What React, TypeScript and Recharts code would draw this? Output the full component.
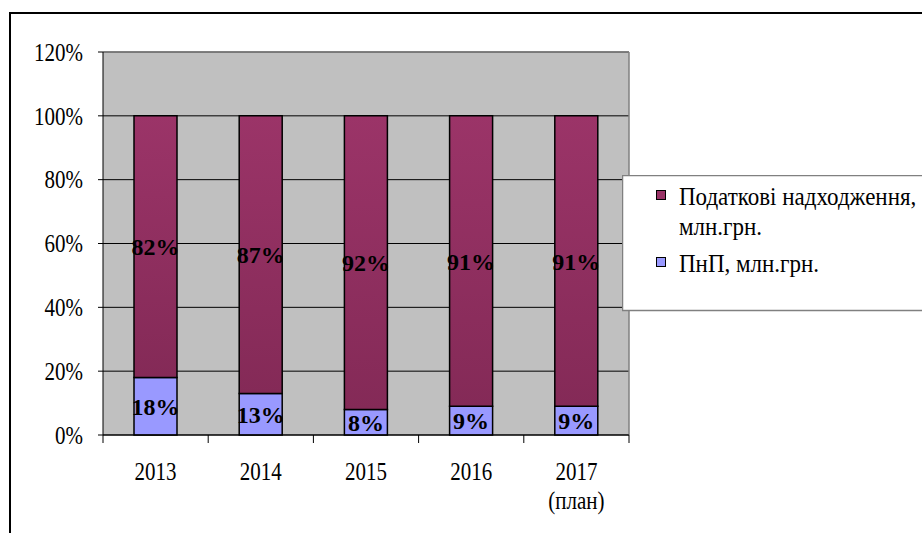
import React from 'react';
import {
  BarChart, Bar, XAxis, YAxis, CartesianGrid, LabelList, ReferenceLine,
} from 'recharts';

const years = ['2013', '2014', '2015', '2016', '2017\n(план)'];
const pnpValues = [18, 13, 8, 9, 9];
const taxValues = [82, 87, 92, 91, 91];
const yTicks = [0, 20, 40, 60, 80, 100, 120];
const seriesNames = { tax: 'Податкові надходження,\nмлн.грн.', pnp: 'ПнП, млн.грн.' };
const seriesColors = { tax: '#993366', pnp: '#9999FF' };

const data = years.map((y, i) => ({ year: y, pnp: pnpValues[i], tax: taxValues[i] }));

const FONT = 'Liberation Serif, Tinos, Times New Roman, DejaVu Serif, serif';
const SY = 1.15;
const LSY = 1.08;

const YTick = (props: any) => {
  const { x, y, payload } = props;
  return (
    <g transform={`translate(${x},${y}) scale(1,${SY})`}>
      <text x={0} y={0} dy="0.36em" textAnchor="end" fontSize={21} style={{ fontFamily: FONT }} fill="#000">
        {payload.value}%
      </text>
    </g>
  );
};

const XTick = (props: any) => {
  const { x, y, payload, index, visibleTicksCount } = props;
  const lines = String(payload.value).split('\n');
  const half = payload.offset || 0;
  const isLast = index === visibleTicksCount - 1;
  return (
    <g>
      <line x1={x - half} x2={x - half} y1={y} y2={y + 8} stroke="#000" strokeWidth={1} />
      {isLast && <line x1={x + half} x2={x + half} y1={y} y2={y + 8} stroke="#000" strokeWidth={1} />}
      <g transform={`translate(${x},${y}) scale(1,${SY})`}>
        {lines.map((l, i) => (
          <text key={i} x={0} y={(45 + i * 29) / SY} textAnchor="middle" fontSize={21} style={{ fontFamily: FONT }} fill="#000">
            {l}
          </text>
        ))}
      </g>
    </g>
  );
};

const LegendBox = () => {
  const items = [
    { name: seriesNames.tax, color: seriesColors.tax },
    { name: seriesNames.pnp, color: seriesColors.pnp },
  ];
  const tops = [15, 82];
  return (
    <svg width={310} height={137} style={{ display: 'block' }}>
      <rect x={0.5} y={0.5} width={330} height={135} fill="#fff" stroke="#808080" strokeWidth={1.5} />
      {items.map((it, i) => {
        const lines = it.name.split('\n');
        return (
          <g key={i}>
            <rect x={34.5} y={tops[i] + 0.5} width={9} height={9} fill={it.color} stroke="#000" strokeWidth={1} />
            {lines.map((l, j) => (
              <g key={j} transform={`translate(57,${tops[i] + 15 + j * 30}) scale(1,${LSY})`}>
                <text x={0} y={0} fontSize={23} style={{ fontFamily: FONT }} fill="#000">{l}</text>
              </g>
            ))}
          </g>
        );
      })}
    </svg>
  );
};

export default function App() {
  return (
    <div style={{ position: 'absolute', left: 0, top: 0, width: 922, height: 533, overflow: 'hidden', background: '#fff' }}>
      <div style={{ position: 'absolute', left: 9, top: 12, width: 1000, height: 1000, border: '2px solid #000' }} />
      <div style={{ position: 'absolute', left: 0, top: 0 }}>
        <BarChart
          width={922}
          height={533}
          data={data}
          margin={{ top: 52, right: 293, bottom: 38, left: 43 }}
          barSize={43}
        >
          <defs>
            <linearGradient id="taxGrad" x1="0" y1="0" x2="0" y2="1">
              <stop offset="0%" stopColor="#9B3468" />
              <stop offset="100%" stopColor="#842A57" />
            </linearGradient>
          </defs>
          <CartesianGrid vertical={false} fill="#C0C0C0" stroke="#000" strokeWidth={1} fillOpacity={1} />
          <CartesianGrid
            horizontal={false}
            stroke="#808080"
            strokeWidth={1.5}
            verticalCoordinatesGenerator={({ offset }: any) => [offset.left + offset.width]}
          />
          <XAxis
            dataKey="year"
            tick={<XTick />}
            tickLine={false}
            axisLine={{ stroke: '#000' }}
            tickSize={0}
            tickMargin={0}
            height={60}
            interval={0}
          />
          <YAxis
            domain={[0, 120]}
            ticks={yTicks}
            tick={<YTick />}
            tickSize={5}
            tickMargin={15}
            tickLine={{ stroke: '#000' }}
            axisLine={{ stroke: '#000' }}
            width={60}
            interval={0}
          />
          <ReferenceLine y={120} stroke="#808080" strokeWidth={1.5} />
          <Bar dataKey="pnp" name={seriesNames.pnp} stackId="a" fill={seriesColors.pnp} stroke="#000" strokeWidth={1.5} isAnimationActive={false}>
            <LabelList
              dataKey="pnp"
              position="center"
              formatter={(v: any) => `${v}%`}
              style={{ fontSize: 24, fontWeight: 'bold', fontFamily: FONT, fill: '#000' }}
            />
          </Bar>
          <Bar dataKey="tax" name={seriesNames.tax} stackId="a" fill="url(#taxGrad)" stroke="#000" strokeWidth={1.5} isAnimationActive={false}>
            <LabelList
              dataKey="tax"
              position="center"
              formatter={(v: any) => `${v}%`}
              style={{ fontSize: 24, fontWeight: 'bold', fontFamily: FONT, fill: '#000' }}
            />
          </Bar>
        </BarChart>
      </div>
      <div style={{ position: 'absolute', left: 622, top: 175 }}>
        <LegendBox />
      </div>
    </div>
  );
}
